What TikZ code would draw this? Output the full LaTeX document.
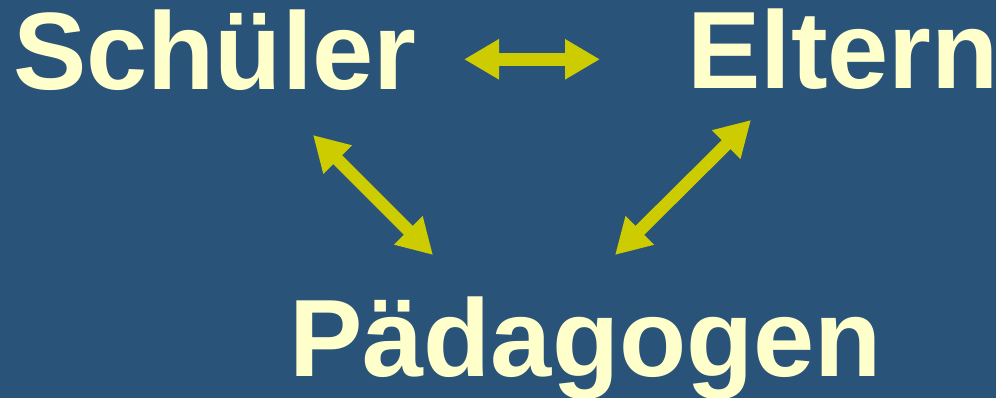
\documentclass[tikz,border=0pt]{standalone}
\usepackage{fontspec}
\setmainfont{Liberation Sans}
\usetikzlibrary{arrows.meta}
\definecolor{bg}{HTML}{295379}
\definecolor{txt}{HTML}{FFFFCC}
\definecolor{arr}{HTML}{CCCC00}
\tikzset{
  word/.style={anchor=base west,inner sep=0pt,text=txt,font=\fontsize{110pt}{110pt}\selectfont\bfseries},
  dblarrow/.style={draw=arr,line width=12.5pt,{Triangle[length=35pt,width=38pt]}-{Triangle[length=35pt,width=38pt]}}
}
\begin{document}
\begin{tikzpicture}[x=1pt,y=1pt]
\fill[bg] (0,0) rectangle (996,398);
\useasboundingbox (0,0) rectangle (996,398);
\node[word] (schueler) at (13,308) {Schüler};
\node[word] (eltern) at (687,309) {Eltern};
\node[word] (paed) at (289,21) {Pädagogen};
\coordinate (h1) at (464,338.7);
\coordinate (h2) at (600,338.7);
\coordinate (l1) at (313,263);
\coordinate (l2) at (433,143);
\coordinate (r1) at (751,278);
\coordinate (r2) at (615,143);
\draw[dblarrow] (h1) -- (h2);
\draw[dblarrow] (l1) -- (l2);
\draw[dblarrow] (r1) -- (r2);
\end{tikzpicture}
\end{document}
